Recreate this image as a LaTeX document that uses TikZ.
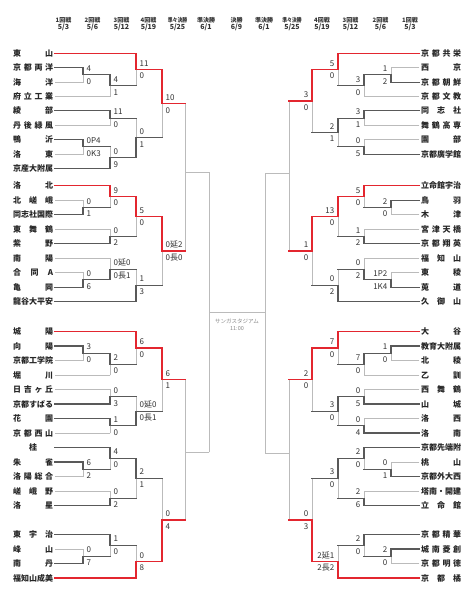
\documentclass[tikz,border=0pt]{standalone}
\usepackage{fontspec}
\setmainfont{Noto Sans CJK JP}
\definecolor{bred}{HTML}{E3262F}
\definecolor{dgray}{HTML}{595959}
\definecolor{lgray}{HTML}{BBBBBB}
\definecolor{tgray}{HTML}{333333}
\definecolor{cgray}{HTML}{888888}
\pgfdeclarelayer{bg}\pgfdeclarelayer{lt}\pgfdeclarelayer{dk}\pgfdeclarelayer{rd}
\pgfsetlayers{bg,lt,dk,rd,main}
\tikzset{
 lt/.style={draw=lgray,line width=0.95pt,line cap=rect},
 dk/.style={draw=dgray,line width=1.05pt,line cap=rect},
 rd/.style={draw=bred,line width=1.4pt,line cap=rect},
 sc/.style={font=\fontsize{8}{9}\selectfont,text=tgray,inner sep=0pt},
 nm/.style={font=\bfseries\fontsize{8}{9}\selectfont,text=black!85,inner sep=0pt},
 hd/.style={font=\bfseries\fontsize{6}{7}\selectfont,text=tgray,inner sep=0pt},
 hdd/.style={font=\bfseries\fontsize{7}{8}\selectfont,text=tgray,inner sep=0pt},
 ct/.style={font=\fontsize{5.5}{6}\selectfont,text=cgray,inner sep=0pt}
}
\newcommand\bkH[4]{\begin{pgfonlayer}{#4}\draw[#4] (#1,#3) -- (#2,#3);\end{pgfonlayer}}
\newcommand\bkV[4]{\begin{pgfonlayer}{#4}\draw[#4] (#1,#2) -- (#1,#3);\end{pgfonlayer}}
\newcommand\bkL[7]{\pgfmathsetmacro\bkm{(#2+#3)/2}\bkV{#1}{#2}{\bkm}{#6}\bkV{#1}{\bkm}{#3}{#7}%
 \node[sc,anchor=base west] at (#1+3.5,\bkm-3.4) {#4};\node[sc,anchor=base west] at (#1+3.5,\bkm+9.3) {#5};}
\newcommand\bkR[7]{\pgfmathsetmacro\bkm{(#2+#3)/2}\bkV{#1}{#2}{\bkm}{#6}\bkV{#1}{\bkm}{#3}{#7}%
 \node[sc,anchor=base east] at (#1-3.5,\bkm-3.4) {#4};\node[sc,anchor=base east] at (#1-3.5,\bkm+9.3) {#5};}
\newcommand\tnL[2]{\node[nm,anchor=base west] at (13,#1+3) {\makebox[40pt][s]{#2}};}
\newcommand\tnR[2]{\node[nm,anchor=base west] at (421,#1+3) {\makebox[40pt][s]{#2}};}
\newcommand\hdr[3]{\node[hd] at (#1,20) {#2};\node[hdd] at (#1,27.5) {#3};}
\begin{document}
\begin{tikzpicture}[x=1pt,y=-1pt]
\begin{pgfonlayer}{bg}\fill[white] (0,0) rectangle (474,605);\end{pgfonlayer}
\useasboundingbox (0,0) rectangle (474,605);
% header
\hdr{63.5}{1回戦}{5/3}
\hdr{92.5}{2回戦}{5/6}
\hdr{121.5}{3回戦}{5/12}
\hdr{148.5}{4回戦}{5/19}
\hdr{177.5}{\scalebox{0.8}[1]{準々決勝}}{5/25}
\hdr{206}{準決勝}{6/1}
\hdr{236.5}{決勝}{6/9}
\hdr{264}{準決勝}{6/1}
\hdr{292}{\scalebox{0.8}[1]{準々決勝}}{5/25}
\hdr{322}{4回戦}{5/19}
\hdr{350.5}{3回戦}{5/12}
\hdr{380.5}{2回戦}{5/6}
\hdr{410}{1回戦}{5/3}
% ---------------- LEFT names
\tnL{53.3}{東\hfil 山}
\tnL{67.7}{京\hfil 都\hfil 両\hfil 洋}
\tnL{82.1}{海\hfil 洋}
\tnL{96.5}{府\hfil 立\hfil 工\hfil 業}
\tnL{110.9}{綾\hfil 部}
\tnL{125.3}{丹\hfil 後\hfil 緑\hfil 風}
\tnL{139.7}{鴨\hfil 沂}
\tnL{154.1}{洛\hfil 東}
\tnL{168.5}{京\hfil 産\hfil 大\hfil 附\hfil 属}
\tnL{185.7}{洛\hfil 北}
\tnL{200.2}{北\hfil 嵯\hfil 峨}
\tnL{214.7}{同\hfil 志\hfil 社\hfil 国\hfil 際}
\tnL{229.2}{東\hfil 舞\hfil 鶴}
\tnL{243.7}{紫\hfil 野}
\tnL{258.2}{南\hfil 陽}
\tnL{272.7}{合\hfil 同\hfil A}
\tnL{287.2}{亀\hfil 岡}
\tnL{301.7}{龍\hfil 谷\hfil 大\hfil 平\hfil 安}
\tnL{331.5}{城\hfil 陽}
\tnL{346}{向\hfil 陽}
\tnL{360.5}{京\hfil 都\hfil 工\hfil 学\hfil 院}
\tnL{375}{堀\hfil 川}
\tnL{389.5}{日\hfil 吉\hfil ヶ\hfil 丘}
\tnL{404}{京\hfil 都\hfil す\hfil ば\hfil る}
\tnL{418.5}{花\hfil 園}
\tnL{433}{京\hfil 都\hfil 西\hfil 山}
\tnL{447.5}{\hfil 桂\hfil}
\tnL{462}{朱\hfil 雀}
\tnL{476.5}{洛\hfil 陽\hfil 総\hfil 合}
\tnL{491}{嵯\hfil 峨\hfil 野}
\tnL{505.5}{洛\hfil 星}
\tnL{534.5}{東\hfil 宇\hfil 治}
\tnL{549}{峰\hfil 山}
\tnL{563.5}{南\hfil 丹}
\tnL{578}{福\hfil 知\hfil 山\hfil 成\hfil 美}
% LEFT team lines
\bkH{55}{136}{53.3}{rd}
\bkH{55}{83}{67.7}{dk}
\bkH{55}{83}{82.1}{lt}
\bkH{55}{110}{96.5}{lt}
\bkH{55}{110}{110.9}{dk}
\bkH{55}{110}{125.3}{lt}
\bkH{55}{83}{139.7}{dk}
\bkH{55}{83}{154.1}{lt}
\bkH{55}{110}{168.5}{dk}
\bkH{55}{110}{185.7}{rd}
\bkH{55}{83}{200.2}{lt}
\bkH{55}{83}{214.7}{dk}
\bkH{55}{110}{229.2}{lt}
\bkH{55}{110}{243.7}{dk}
\bkH{55}{110}{258.2}{lt}
\bkH{55}{83}{272.7}{lt}
\bkH{55}{83}{287.2}{dk}
\bkH{55}{136}{301.7}{dk}
\bkH{55}{136}{331.5}{rd}
\bkH{55}{83}{346}{dk}
\bkH{55}{83}{360.5}{lt}
\bkH{55}{110}{375}{lt}
\bkH{55}{110}{389.5}{lt}
\bkH{55}{110}{404}{dk}
\bkH{55}{110}{418.5}{dk}
\bkH{55}{110}{433}{lt}
\bkH{55}{110}{447.5}{dk}
\bkH{55}{83}{462}{dk}
\bkH{55}{83}{476.5}{lt}
\bkH{55}{110}{491}{lt}
\bkH{55}{110}{505.5}{dk}
\bkH{55}{110}{534.5}{dk}
\bkH{55}{83}{549}{lt}
\bkH{55}{83}{563.5}{dk}
\bkH{55}{136}{578}{rd}
% LEFT matches
\bkL{83}{67.7}{82.1}{4}{0}{dk}{lt}\bkH{83}{110}{74.9}{dk}
\bkL{110}{74.9}{96.5}{4}{1}{dk}{lt}\bkH{110}{136}{85.7}{dk}
\bkL{136}{53.3}{85.7}{11}{0}{rd}{lt}\bkH{136}{162}{69.5}{rd}
\bkL{110}{110.9}{125.3}{11}{0}{dk}{lt}\bkH{110}{136}{118.1}{dk}
\bkL{83}{139.7}{154.1}{0P4}{0K3}{dk}{lt}\bkH{83}{110}{146.9}{dk}
\bkL{110}{146.9}{168.5}{0}{9}{lt}{dk}\bkH{110}{136}{157.7}{dk}
\bkL{136}{118.1}{157.7}{0}{1}{lt}{dk}\bkH{136}{162}{137.9}{dk}
\bkL{162}{69.5}{137.9}{10}{0}{rd}{lt}\bkH{162}{185}{103.7}{rd}
\bkL{83}{200.2}{214.7}{0}{1}{lt}{dk}\bkH{83}{110}{207.45}{dk}
\bkL{110}{185.7}{207.45}{9}{0}{rd}{lt}\bkH{110}{136}{196.575}{rd}
\bkL{110}{229.2}{243.7}{0}{2}{lt}{dk}\bkH{110}{136}{236.45}{dk}
\bkL{136}{196.575}{236.45}{5}{0}{rd}{lt}\bkH{136}{162}{216.51}{rd}
\bkL{83}{272.7}{287.2}{0}{6}{lt}{dk}\bkH{83}{110}{279.95}{dk}
\bkL{110}{258.2}{279.95}{0延0}{0長1}{lt}{dk}\bkH{110}{136}{269.075}{dk}
\bkL{136}{269.075}{301.7}{1}{3}{lt}{dk}\bkH{136}{162}{285.39}{dk}
\bkL{162}{216.51}{285.39}{0延2}{0長0}{rd}{lt}\bkH{162}{185}{250.95}{rd}
\bkL{83}{346}{360.5}{3}{0}{dk}{lt}\bkH{83}{110}{353.25}{dk}
\bkL{110}{353.25}{375}{2}{0}{dk}{lt}\bkH{110}{136}{364.125}{dk}
\bkL{136}{331.5}{364.125}{6}{0}{rd}{lt}\bkH{136}{162}{347.81}{rd}
\bkL{110}{389.5}{404}{0}{3}{lt}{dk}\bkH{110}{136}{396.75}{dk}
\bkL{110}{418.5}{433}{1}{0}{dk}{lt}\bkH{110}{136}{425.75}{dk}
\bkL{136}{396.75}{425.75}{0延0}{0長1}{lt}{dk}\bkH{136}{162}{411.25}{dk}
\bkL{162}{347.81}{411.25}{6}{1}{rd}{lt}\bkH{162}{185}{379.53}{rd}
\bkL{83}{462}{476.5}{6}{2}{dk}{lt}\bkH{83}{110}{469.25}{dk}
\bkL{110}{447.5}{469.25}{4}{0}{dk}{lt}\bkH{110}{136}{458.375}{dk}
\bkL{110}{491}{505.5}{0}{2}{lt}{dk}\bkH{110}{136}{498.25}{dk}
\bkL{136}{458.375}{498.25}{2}{1}{dk}{lt}\bkH{136}{162}{478.31}{dk}
\bkL{83}{549}{563.5}{0}{7}{lt}{dk}\bkH{83}{110}{556.25}{dk}
\bkL{110}{534.5}{556.25}{1}{0}{dk}{lt}\bkH{110}{136}{545.375}{dk}
\bkL{136}{545.375}{578}{0}{8}{lt}{rd}\bkH{136}{162}{561.69}{rd}
\bkL{162}{478.31}{561.69}{0}{4}{lt}{rd}\bkH{162}{185}{520}{rd}
% quarterfinals / semifinals / final (unplayed)
\bkV{185}{103.7}{250.95}{lt}\bkH{185}{209}{172}{lt}
\bkV{185}{379.53}{520}{lt}\bkH{185}{209}{452}{lt}
\bkV{209}{172}{452}{lt}
\bkH{209}{265}{312}{lt}
\bkV{265}{173}{453}{lt}
\bkV{289}{101}{250.95}{lt}\bkH{265}{289}{173}{lt}
\bkV{289}{379.53}{520}{lt}\bkH{265}{289}{453}{lt}
\node[ct] (stad) at (237,321.5) {サンガスタジアム};
\node[ct] (time) at (237,328.7) {11:00};
% ---------------- RIGHT names
\tnR{53.3}{京\hfil 都\hfil 共\hfil 栄}
\tnR{67.7}{西\hfil 京}
\tnR{82.1}{京\hfil 都\hfil 朝\hfil 鮮}
\tnR{96.5}{京\hfil 都\hfil 文\hfil 教}
\tnR{110.9}{同\hfil 志\hfil 社}
\tnR{125.3}{舞\hfil 鶴\hfil 高\hfil 専}
\tnR{139.7}{園\hfil 部}
\tnR{154.1}{京\hfil 都\hfil 廣\hfil 学\hfil 館}
\tnR{185.7}{立\hfil 命\hfil 館\hfil 宇\hfil 治}
\tnR{200.2}{鳥\hfil 羽}
\tnR{214.7}{木\hfil 津}
\tnR{229.2}{宮\hfil 津\hfil 天\hfil 橋}
\tnR{243.7}{京\hfil 都\hfil 翔\hfil 英}
\tnR{258.2}{福\hfil 知\hfil 山}
\tnR{272.7}{東\hfil 稜}
\tnR{287.2}{莵\hfil 道}
\tnR{301.7}{久\hfil 御\hfil 山}
\tnR{331.5}{大\hfil 谷}
\tnR{346}{教\hfil 育\hfil 大\hfil 附\hfil 属}
\tnR{360.5}{北\hfil 稜}
\tnR{375}{乙\hfil 訓}
\tnR{389.5}{西\hfil 舞\hfil 鶴}
\tnR{404}{山\hfil 城}
\tnR{418.5}{洛\hfil 西}
\tnR{433}{洛\hfil 南}
\tnR{447.5}{京\hfil 都\hfil 先\hfil 端\hfil 附}
\tnR{462}{桃\hfil 山}
\tnR{476.5}{京\hfil 都\hfil 外\hfil 大\hfil 西}
\tnR{491}{塔\hfil 南\hfil ・\hfil 開\hfil 建}
\tnR{505.5}{立\hfil 命\hfil 館}
\tnR{534.5}{京\hfil 都\hfil 精\hfil 華}
\tnR{549}{城\hfil 南\hfil 菱\hfil 創}
\tnR{563.5}{京\hfil 都\hfil 明\hfil 徳}
\tnR{578}{京\hfil 都\hfil 橘}
% RIGHT team lines
\bkH{338}{419}{53.3}{rd}
\bkH{391}{419}{67.7}{lt}
\bkH{391}{419}{82.1}{dk}
\bkH{364}{419}{96.5}{lt}
\bkH{364}{419}{110.9}{dk}
\bkH{364}{419}{125.3}{lt}
\bkH{364}{419}{139.7}{lt}
\bkH{364}{419}{154.1}{dk}
\bkH{364}{419}{185.7}{rd}
\bkH{391}{419}{200.2}{dk}
\bkH{391}{419}{214.7}{lt}
\bkH{364}{419}{229.2}{lt}
\bkH{364}{419}{243.7}{dk}
\bkH{364}{419}{258.2}{lt}
\bkH{391}{419}{272.7}{lt}
\bkH{391}{419}{287.2}{dk}
\bkH{338}{419}{301.7}{dk}
\bkH{338}{419}{331.5}{rd}
\bkH{391}{419}{346}{dk}
\bkH{391}{419}{360.5}{lt}
\bkH{364}{419}{375}{lt}
\bkH{364}{419}{389.5}{lt}
\bkH{364}{419}{404}{dk}
\bkH{364}{419}{418.5}{lt}
\bkH{364}{419}{433}{dk}
\bkH{364}{419}{447.5}{dk}
\bkH{391}{419}{462}{lt}
\bkH{391}{419}{476.5}{dk}
\bkH{364}{419}{491}{lt}
\bkH{364}{419}{505.5}{dk}
\bkH{364}{419}{534.5}{dk}
\bkH{391}{419}{549}{dk}
\bkH{391}{419}{563.5}{lt}
\bkH{338}{419}{578}{rd}
% RIGHT matches
\bkR{391}{67.7}{82.1}{1}{2}{lt}{dk}\bkH{364}{391}{74.9}{dk}
\bkR{364}{74.9}{96.5}{3}{0}{dk}{lt}\bkH{338}{364}{85.7}{dk}
\bkR{338}{53.3}{85.7}{5}{0}{rd}{lt}\bkH{312}{338}{69.5}{rd}
\bkR{364}{110.9}{125.3}{3}{1}{dk}{lt}\bkH{338}{364}{118.1}{dk}
\bkR{364}{139.7}{154.1}{0}{5}{lt}{dk}\bkH{338}{364}{146.9}{dk}
\bkR{338}{118.1}{146.9}{2}{1}{dk}{lt}\bkH{312}{338}{132.5}{dk}
\bkR{312}{69.5}{132.5}{3}{0}{rd}{lt}\bkH{289}{312}{101}{rd}
\bkR{391}{200.2}{214.7}{2}{0}{dk}{lt}\bkH{364}{391}{207.45}{dk}
\bkR{364}{185.7}{207.45}{5}{0}{rd}{lt}\bkH{338}{364}{196.575}{rd}
\bkR{364}{229.2}{243.7}{1}{2}{lt}{dk}\bkH{338}{364}{236.45}{dk}
\bkR{338}{196.575}{236.45}{13}{0}{rd}{lt}\bkH{312}{338}{216.51}{rd}
\bkR{391}{272.7}{287.2}{1P2}{1K4}{lt}{dk}\bkH{364}{391}{279.95}{dk}
\bkR{364}{258.2}{279.95}{0}{2}{lt}{dk}\bkH{338}{364}{269.075}{dk}
\bkR{338}{269.075}{301.7}{0}{2}{lt}{dk}\bkH{312}{338}{285.39}{dk}
\bkR{312}{216.51}{285.39}{1}{0}{rd}{lt}\bkH{289}{312}{250.95}{rd}
\bkR{391}{346}{360.5}{1}{0}{dk}{lt}\bkH{364}{391}{353.25}{dk}
\bkR{364}{353.25}{375}{7}{0}{dk}{lt}\bkH{338}{364}{364.125}{dk}
\bkR{338}{331.5}{364.125}{7}{0}{rd}{lt}\bkH{312}{338}{347.81}{rd}
\bkR{364}{389.5}{404}{0}{5}{lt}{dk}\bkH{338}{364}{396.75}{dk}
\bkR{364}{418.5}{433}{0}{4}{lt}{dk}\bkH{338}{364}{425.75}{dk}
\bkR{338}{396.75}{425.75}{3}{0}{dk}{lt}\bkH{312}{338}{411.25}{dk}
\bkR{312}{347.81}{411.25}{2}{0}{rd}{lt}\bkH{289}{312}{379.53}{rd}
\bkR{391}{462}{476.5}{0}{1}{lt}{dk}\bkH{364}{391}{469.25}{dk}
\bkR{364}{447.5}{469.25}{2}{0}{dk}{lt}\bkH{338}{364}{458.375}{dk}
\bkR{364}{491}{505.5}{2}{6}{lt}{dk}\bkH{338}{364}{498.25}{dk}
\bkR{338}{458.375}{498.25}{3}{0}{dk}{lt}\bkH{312}{338}{478.31}{dk}
\bkR{391}{549}{563.5}{2}{0}{dk}{lt}\bkH{364}{391}{556.25}{dk}
\bkR{364}{534.5}{556.25}{2}{0}{dk}{lt}\bkH{338}{364}{545.375}{dk}
\bkR{338}{545.375}{578}{2延1}{2長2}{lt}{rd}\bkH{312}{338}{561.69}{rd}
\bkR{312}{478.31}{561.69}{0}{3}{lt}{rd}\bkH{289}{312}{520}{rd}
\end{tikzpicture}
\end{document}
